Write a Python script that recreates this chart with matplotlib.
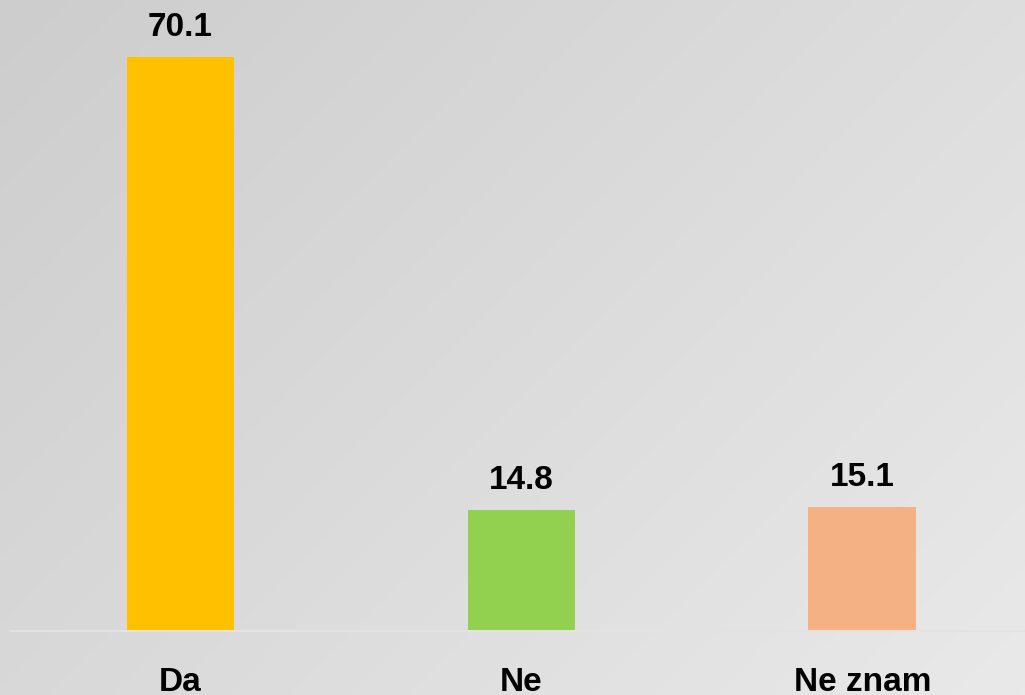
import numpy as np
import matplotlib
matplotlib.use("Agg")
import matplotlib.pyplot as plt

# podaci
kategorije = ["Da", "Ne", "Ne znam"]
vrijednosti = [70.1, 14.8, 15.1]
boje = ["#ffc000", "#92d050", "#f4b183"]

plt.rcParams['font.family'] = ['Liberation Sans', 'DejaVu Sans']

fig = plt.figure(figsize=(10.25, 6.95), dpi=100)

# sivi gradijent u pozadini
bg = fig.add_axes([0, 0, 1, 1], zorder=-10)
gx, gy = np.meshgrid(np.linspace(0, 1, 300), np.linspace(0, 1, 200))
grad = 0.6 * gx + 0.4 * gy
bg.imshow(grad, cmap=matplotlib.colors.LinearSegmentedColormap.from_list(
    "siva", ["#cdcdcd", "#e9e9e9"]), aspect="auto", extent=[0, 1, 0, 1], origin="upper")
bg.axis("off")

ax = fig.add_axes([11 / 1025, 64 / 695, 1 - 11 / 1025, 631 / 695])
ax.patch.set_alpha(0)
x = np.arange(len(kategorije))
bars = ax.bar(x, vrijednosti, width=0.316, color=boje, zorder=2)

for b, v in zip(bars, vrijednosti):
    ax.annotate(f"{v:.1f}", (b.get_x() + b.get_width() / 2, v),
                xytext=(0, 10), textcoords="offset points",
                ha="center", va="bottom", fontsize=24, fontweight="bold",
                color="black", annotation_clip=False)

ax.set_xlim(-0.497, 2.477)
ax.set_ylim(0, 77.05)
ax.set_xticks(x)
ax.set_xticklabels(kategorije, fontsize=24, fontweight="bold")
ax.tick_params(axis="x", length=0, pad=26)
ax.set_yticks([])
for s in ["top", "left", "right"]:
    ax.spines[s].set_visible(False)
ax.spines["bottom"].set_color("#e2e2e2")
ax.spines["bottom"].set_linewidth(1.5)

fig.savefig("out.png", dpi=100)
